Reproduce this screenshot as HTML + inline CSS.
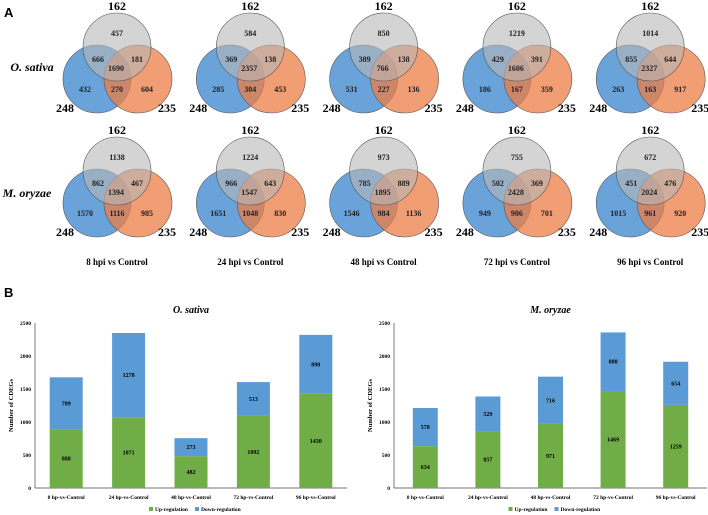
<!DOCTYPE html>
<html><head><meta charset="utf-8"><style>
body{margin:0;background:#fff;}
svg{display:block;font-family:"Liberation Serif",serif;}
</style></head><body>
<svg id="s" width="708" height="515" viewBox="0 0 708 515">
<text x="4" y="17" font-family="Liberation Sans" font-weight="bold" font-size="13">A</text>
<text x="4" y="297" font-family="Liberation Sans" font-weight="bold" font-size="13">B</text>
<text x="32" y="71" text-anchor="middle" font-style="italic" font-weight="bold" font-size="12">O. sativa</text>
<text x="27" y="197" text-anchor="middle" font-style="italic" font-weight="bold" font-size="12">M. oryzae</text>
<g id="venns"></g>
<g id="bars"></g>
</svg>
<script>
const NS="http://www.w3.org/2000/svg";
const svg=document.getElementById('s');
function mk(tag,attrs,parent,txt){const e=document.createElementNS(NS,tag);for(const k in attrs)e.setAttribute(k,attrs[k]);if(txt!==undefined)e.textContent=txt;(parent||svg).appendChild(e);return e;}

// Venn data: [grayOnly, gray&blue, gray&orange, all, blueOnly, blue&orange, orangeOnly]
const vennCols=["8 hpi vs Control","24 hpi vs Control","48 hpi vs Control","72 hpi vs Control","96 hpi vs Control"];
const vennSativa=[[457,666,181,1690,432,270,604],[584,369,138,2357,285,304,453],[850,389,138,766,531,227,136],[1219,429,391,1606,186,167,359],[1014,855,644,2327,263,163,917]];
const vennOryzae=[[1138,862,467,1394,1570,1116,985],[1224,966,643,1547,1651,1048,830],[973,785,889,1895,1546,984,1136],[755,502,369,2428,949,906,701],[672,451,476,2024,1015,961,920]];
const vennSetLabels=["162","248","235"];

const vg=document.getElementById('venns');
const rows=[vennSativa,vennOryzae];
const offs=[[0,-14],[-19,12],[20,12],[-1,21],[-32,42],[0,42],[30,42]];
rows.forEach((row,ri)=>{
  row.forEach((vals,ci)=>{
    const cx=117+ci*133.3, cy=47+ri*124;
    const g=mk('g',{},vg);
    
    
    const b=mk('circle',{cx:cx-20,cy:cy+32,r:34,fill:'#4f93d2','fill-opacity':0.85,stroke:'#555','stroke-width':0.6},g);
    
    const o=mk('circle',{cx:cx+21,cy:cy+32,r:34,fill:'#ee7d45','fill-opacity':0.75,stroke:'#555','stroke-width':0.6},g);
    
    const gr=mk('circle',{cx:cx,cy:cy,r:34,fill:'#b8b8b8','fill-opacity':0.6,stroke:'#555','stroke-width':0.6},g);
    
    vals.forEach((v,i)=>{
      const t=mk('text',{x:cx+offs[i][0],y:cy+offs[i][1]+3,'text-anchor':'middle','font-size':8,'font-weight':'bold',fill:'#222'},g,v);
      
    });
    const l1=mk('text',{x:cx,y:cy-37,'text-anchor':'middle','font-size':12,'font-weight':'bold'},g,vennSetLabels[0]);
    
    const l2=mk('text',{x:cx-52,y:cy+65,'text-anchor':'middle','font-size':12,'font-weight':'bold'},g,vennSetLabels[1]);
    
    const l3=mk('text',{x:cx+50,y:cy+65,'text-anchor':'middle','font-size':12,'font-weight':'bold'},g,vennSetLabels[2]);
    
    if(ri===1){
      const ct=mk('text',{x:cx,y:265,'text-anchor':'middle','font-size':9,'font-weight':'bold'},g,vennCols[ci]);
      
    }
  });
});

// Bar charts
const barCats=["8 hp-vs-Control","24 hp-vs-Control","48 hp-vs-Control","72 hp-vs-Control","96 hp-vs-Control"];
const sativaUp=[888,1071,482,1092,1430];
const sativaDown=[789,1278,273,513,890];
const oryzaeUp=[634,857,971,1469,1259];
const oryzaeDown=[578,529,716,888,654];
const yTicks=[0,500,1000,1500,2000,2500];

const bg=document.getElementById('bars');
function chart(name,title,x0,x1,up,down,bw){
  const g=mk('g',{},bg);
  
  const y0=488, yMax=2500, h=165;
  const ys=v=>y0-v/yMax*h;
  const step=(x1-x0)/barCats.length;
  const xs=i=>x0+step*(i+0.5);
  const tt=mk('text',{x:(x0+x1)/2,y:313,'text-anchor':'middle','font-size':10,'font-style':'italic','font-weight':'bold'},g,title);
  
  yTicks.forEach(t=>{
    const tl=mk('text',{x:x0-4,y:ys(t)+2,'text-anchor':'end','font-size':5.5,'font-weight':'bold'},g,t);
    
  });
  const ax=mk('line',{x1:x0,x2:x0,y1:ys(2500),y2:y0,stroke:'#444','stroke-width':0.7},g);
  
  const xa=mk('line',{x1:x0,x2:x1,y1:y0,y2:y0,stroke:'#444','stroke-width':0.7},g);
  
  const yl=mk('text',{transform:`translate(${x0-22},${ys(1250)}) rotate(-90)`,'text-anchor':'middle','font-size':6.5,'font-weight':'bold'},g,'Number of CDEGs');
  
  barCats.forEach((c,i)=>{
    const cx=xs(i);
    const ru=mk('rect',{x:cx-bw/2,y:ys(up[i]),width:bw,height:y0-ys(up[i]),fill:'#70ad47'},g);
    
    const rd=mk('rect',{x:cx-bw/2,y:ys(up[i]+down[i]),width:bw,height:ys(up[i])-ys(up[i]+down[i]),fill:'#5b9bd5'},g);
    
    const tu=mk('text',{x:cx,y:(ys(up[i])+y0)/2+2,'text-anchor':'middle','font-size':6,'font-weight':'bold'},g,up[i]);
    
    const td=mk('text',{x:cx,y:(ys(up[i])+ys(up[i]+down[i]))/2+2,'text-anchor':'middle','font-size':6,'font-weight':'bold'},g,down[i]);
    
    const xl=mk('text',{x:cx,y:499,'text-anchor':'middle','font-size':5.5,'font-weight':'bold'},g,c);
    
  });
  const lx=(x0+x1)/2-42;
  const l1=mk('rect',{x:lx,y:507,width:4,height:4,fill:'#70ad47'},g);
  
  const l1t=mk('text',{x:lx+6,y:511,'font-size':5.5,'font-weight':'bold'},g,'Up-regulation');
  
  const l2=mk('rect',{x:lx+46,y:507,width:4,height:4,fill:'#5b9bd5'},g);
  
  const l2t=mk('text',{x:lx+52,y:511,'font-size':5.5,'font-weight':'bold'},g,'Down-regulation');
  
}
chart('bar-chart-o-sativa','O. sativa',35,347,sativaUp,sativaDown,33);
chart('bar-chart-m-oryzae','M. oryzae',394,707,oryzaeUp,oryzaeDown,25);
</script>
</body></html>
